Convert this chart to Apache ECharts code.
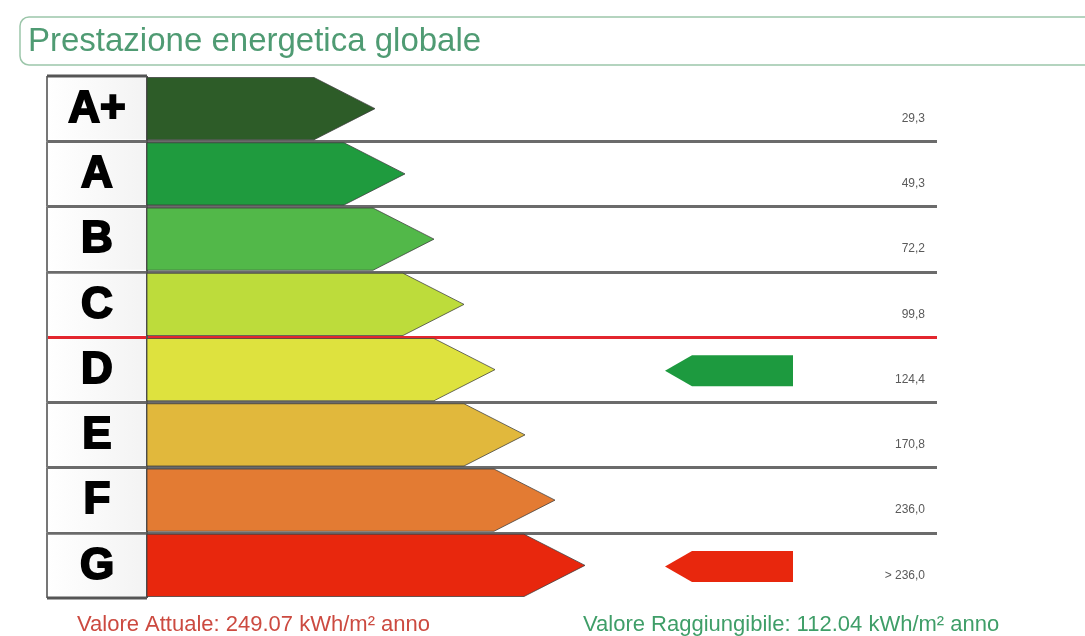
<!DOCTYPE html>
<html>
<head>
<meta charset="utf-8">
<script src="https://cdn.jsdelivr.net/npm/echarts@6/dist/echarts.min.js"></script>
<style>
  html, body { margin: 0; padding: 0; background: #fff; }
  #chart { width: 1085px; height: 636px; }
</style>
</head>
<body>
<div id="chart"></div>
<script>
// classi energetiche, dall'alto verso il basso
const classi = ['A+', 'A', 'B', 'C', 'D', 'E', 'F', 'G']
// limiti superiori delle classi (kWh/m2 anno)
const limiti = [29.3, 49.3, 72.2, 99.8, 124.4, 170.8, 236.0]
// lunghezza delle frecce colorate (unità asse x)
const lunghezzaBarre = [22.8, 25.8, 28.7, 31.7, 34.8, 37.8, 40.8, 43.8]
const coloriClassi = ['#2d5c28', '#1f9b3e', '#52b849', '#bddc3b', '#dee23e', '#e1b83c', '#e37b33', '#e8270d']
const valoreAttuale = 249.07
const valoreRaggiungibile = 112.04

const fmt = v => v.toFixed(1).replace('.', ',')
const etichetteLimiti = limiti.map(fmt).concat('> ' + fmt(limiti[limiti.length - 1]))

// in quale classe cade un valore
function classeDi(v){
    for (let i = 0; i < limiti.length; i++) {
        if (v <= limiti[i]) return i
    }
    return classi.length - 1
}

const chart = echarts.init(document.getElementById('chart'))

const splitColors = ['rgba(0,0,0,0)', '#6b6b6b', '#6b6b6b', '#6b6b6b', '#e3262e', '#6b6b6b', '#6b6b6b', '#6b6b6b', 'rgba(0,0,0,0)']

const option = {
    animation: false,
    textStyle: { fontFamily: 'Liberation Sans, Arial, sans-serif' },
    title: {
        text: 'Prestazione energetica globale',
        left: 20,
        top: 17,
        padding: [8, 760, 6, 8],
        borderColor: '#9cc6aa',
        borderWidth: 1.5,
        borderRadius: 9,
        textStyle: {
            color: '#4f9b73',
            fontSize: 33,
            fontWeight: 'normal',
            lineHeight: 34
        }
    },
    grid: { left: 47, right: 148, top: 76, bottom: 38 },
    xAxis: { type: 'value', min: -10, max: 79, show: false },
    yAxis: [
        {
            type: 'category',
            data: classi,
            inverse: true,
            axisLine: { show: false },
            axisTick: { show: false },
            axisLabel: { show: false },
            splitLine: { show: true, lineStyle: { color: splitColors, width: 3 } }
        },
        {
            type: 'category',
            data: etichetteLimiti,
            inverse: true,
            position: 'right',
            axisLine: { show: false },
            axisTick: { show: false },
            splitLine: { show: false },
            axisLabel: {
                inside: true,
                margin: 12,
                fontSize: 12,
                color: '#5a5a5a',
                verticalAlign: 'top',
                padding: [4, 0, 0, 0]
            }
        }
    ],
    graphic: [
        {
            type: 'text', left: 77, top: 614,
            style: { text: 'Valore Attuale: ' + valoreAttuale.toFixed(2) + ' kWh/m² anno', fill: '#cc4a40', fontSize: 22, fontFamily: 'Liberation Sans' }
        },
        {
            type: 'text', left: 583, top: 614,
            style: { text: 'Valore Raggiungibile: ' + valoreRaggiungibile.toFixed(2) + ' kWh/m² anno', fill: '#3f9e68', fontSize: 22, fontFamily: 'Liberation Sans' }
        }
    ],
    series: [
        {
            // colonna con le lettere delle classi
            type: 'custom',
            name: 'classi',
            data: classi.map((c, i) => [0, i]),
            encode: { x: 0, y: 1 },
            renderItem(params, api){
                const i = api.value(1)
                const left = api.coord([-10, i])
                const right = api.coord([0, i])
                const band = api.size([0, 1])[1]
                const yc = left[1]
                const top = yc - band / 2
                const bottom = yc + band / 2
                const children = [
                    {
                        type: 'rect',
                        shape: { x: left[0], y: top + 2, width: right[0] - left[0], height: band - 4 },
                        style: {
                            fill: new echarts.graphic.LinearGradient(0, 0, 1, 0, [
                                { offset: 0, color: '#ffffff' },
                                { offset: 1, color: '#f3f3f3' }
                            ])
                        }
                    },
                    { type: 'line', shape: { x1: left[0], y1: top, x2: left[0], y2: bottom }, style: { stroke: '#777', lineWidth: 2 } },
                    { type: 'line', shape: { x1: right[0], y1: top, x2: right[0], y2: bottom }, style: { stroke: '#555', lineWidth: 2 } },
                    {
                        type: 'text',
                        style: {
                            text: classi[i], x: (left[0] + right[0]) / 2, y: yc + 1,
                            align: 'center', verticalAlign: 'middle',
                            fontSize: 44, fontWeight: 'bold', fontFamily: 'Liberation Sans',
                            fill: '#000', stroke: '#000', lineWidth: 2
                        }
                    }
                ]
                if (i === 0) children.push({ type: 'line', shape: { x1: left[0], y1: top, x2: right[0], y2: top }, style: { stroke: '#555', lineWidth: 3 } })
                if (i === classi.length - 1) children.push({ type: 'line', shape: { x1: left[0], y1: bottom, x2: right[0], y2: bottom }, style: { stroke: '#555', lineWidth: 3 } })
                return { type: 'group', children }
            }
        },
        {
            // frecce colorate delle classi
            type: 'custom',
            name: 'scala',
            data: lunghezzaBarre.map((v, i) => [v, i]),
            encode: { x: 0, y: 1 },
            renderItem(params, api){
                const i = api.value(1)
                const start = api.coord([0, i])
                const tip = api.coord([api.value(0), i])[0]
                const band = api.size([0, 1])[1]
                const h = band - 3
                const yc = start[1]
                const head = h * 0.98
                return {
                    type: 'polygon',
                    shape: { points: [
                        [start[0], yc - h / 2], [tip - head, yc - h / 2], [tip, yc],
                        [tip - head, yc + h / 2], [start[0], yc + h / 2]
                    ] },
                    style: { fill: coloriClassi[i], stroke: 'rgba(60,60,60,0.75)', lineWidth: 1 }
                }
            }
        },
        {
            // indicatori: valore raggiungibile (verde) e attuale (rosso)
            type: 'custom',
            name: 'indicatori',
            data: [
                [classeDi(valoreRaggiungibile), 0],
                [classeDi(valoreAttuale), 1]
            ],
            encode: { y: 0 },
            renderItem(params, api){
                const i = api.value(0)
                const tip = api.coord([51.8, i])
                const end = api.coord([64.6, i])[0]
                const yc = tip[1] + 1
                const h = 31
                const head = 27
                return {
                    type: 'polygon',
                    shape: { points: [
                        [tip[0], yc], [tip[0] + head, yc - h / 2], [end, yc - h / 2],
                        [end, yc + h / 2], [tip[0] + head, yc + h / 2]
                    ] },
                    style: { fill: api.value(1) === 0 ? '#1d9a3f' : '#e8270d' }
                }
            }
        }
    ]
}

chart.setOption(option)
</script>
</body>
</html>
